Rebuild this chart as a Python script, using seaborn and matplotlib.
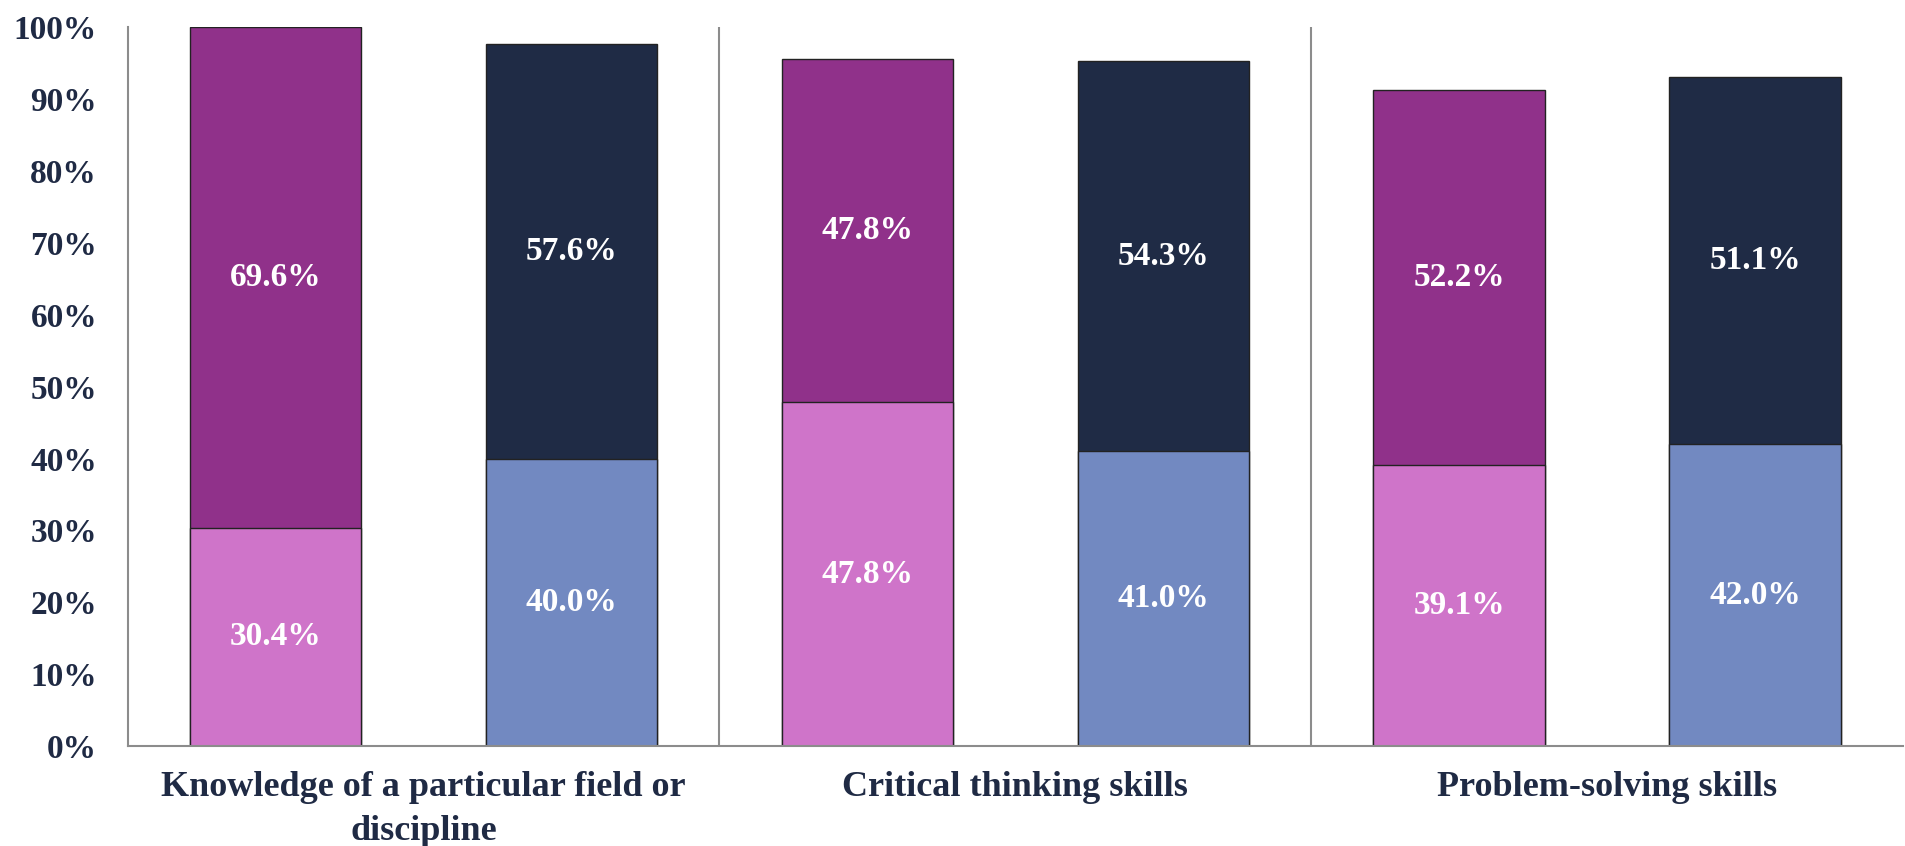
import numpy as np
import pandas as pd
import seaborn as sns
import matplotlib.pyplot as plt

skills = [
    "Knowledge of a particular field or\ndiscipline",
    "Critical thinking skills",
    "Problem-solving skills",
]
series = ["Group A", "Group B"]

# lower / upper stack segments (%) for each series
lower_a = [30.4, 47.8, 39.1]
upper_a = [69.6, 47.8, 52.2]
lower_b = [40.0, 41.0, 42.0]
upper_b = [57.6, 54.3, 51.1]

dark = {"Group A": "#90318A", "Group B": "#1F2B45"}
light = {"Group A": "#CF74C9", "Group B": "#7289C1"}
txt = "#1F2A44"

sns.set_style("white")
plt.rcParams["font.family"] = ["Liberation Serif", "DejaVu Serif"]
plt.rcParams["font.weight"] = "bold"

df = pd.DataFrame({
    "skill": skills * 2,
    "series": [series[0]] * 3 + [series[1]] * 3,
    "lower": lower_a + lower_b,
    "upper": upper_a + upper_b,
})
df["total"] = df["lower"] + df["upper"]

fig, ax = plt.subplots(figsize=(19.05, 8.46), dpi=100)
fig.subplots_adjust(left=0.067, right=0.999, top=0.968, bottom=0.118)

kw = dict(x="skill", hue="series", hue_order=series, order=skills,
          width=1.0, gap=0.42, errorbar=None, legend=False,
          edgecolor="#222222", linewidth=1.0, saturation=1, ax=ax)
sns.barplot(data=df, y="total", palette=dark, **kw)
n_top = len(ax.containers)
sns.barplot(data=df, y="lower", palette=light, **kw)

# labels: upper segment from the total bars, lower from the second draw
for s, cont in zip(series, ax.containers[:n_top]):
    sub = df[df.series == s].set_index("skill").loc[skills]
    for p, lo, up in zip(cont.patches, sub["lower"], sub["upper"]):
        ax.text(p.get_x() + p.get_width() / 2, lo + up / 2, f"{up:.1f}%",
                ha="center", va="center", color="white",
                fontsize=24, fontweight="bold")
for s, cont in zip(series, ax.containers[n_top:]):
    sub = df[df.series == s].set_index("skill").loc[skills]
    ax.bar_label(cont, labels=[f"{v:.1f}%" for v in sub["lower"]],
                 label_type="center", color="white",
                 fontsize=24, fontweight="bold")

ax.set_ylim(0, 100)
ax.set_xlim(-0.5, 2.5)
ax.set_yticks(np.arange(0, 101, 10))
ax.set_yticklabels([f"{v}%" for v in range(0, 101, 10)])
ax.tick_params(axis="y", length=0, pad=22, labelsize=24, labelcolor=txt)
ax.tick_params(axis="x", length=0, pad=18, labelsize=26, labelcolor=txt)
for lab in ax.get_xticklabels() + ax.get_yticklabels():
    lab.set_fontweight("bold")
for lab in ax.get_xticklabels():
    lab.set_linespacing(1.45)
ax.set_xlabel("")
ax.set_ylabel("")

for x in [0.5, 1.5]:
    ax.axvline(x, color="#8C8C8C", lw=1.5, zorder=0)
sns.despine(ax=ax, top=True, right=True)
for sp in ["left", "bottom"]:
    ax.spines[sp].set_color("#8C8C8C")
    ax.spines[sp].set_linewidth(1.5)

fig.savefig("out.png", dpi=100)
